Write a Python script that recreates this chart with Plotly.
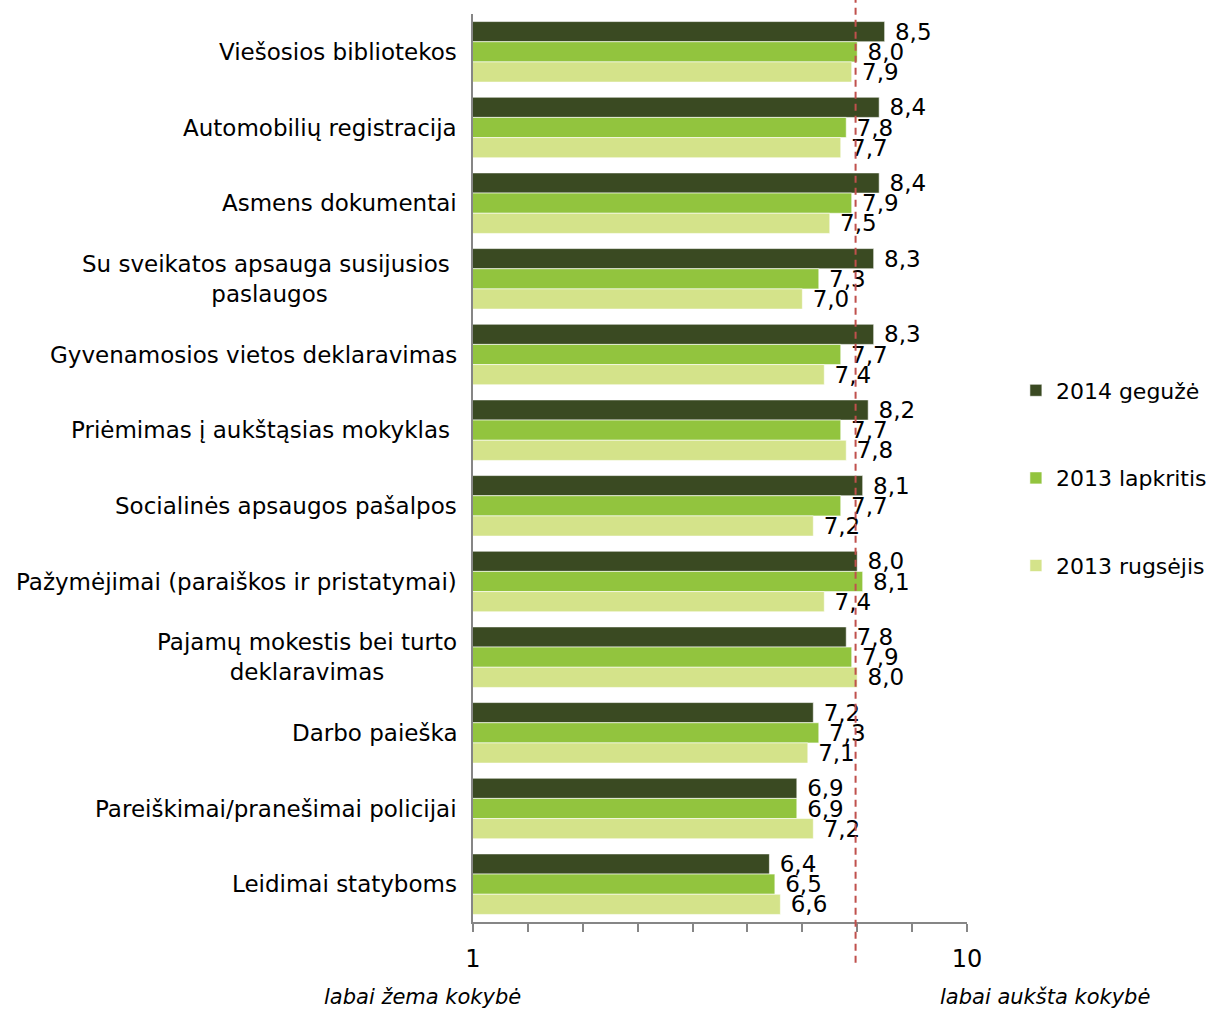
import plotly.graph_objects as go

categories = [
    "Viešosios bibliotekos",
    "Automobilių registracija",
    "Asmens dokumentai",
    "Su sveikatos apsauga susijusios\u00a0<br>paslaugos",
    "Gyvenamosios vietos deklaravimas",
    "Priėmimas į aukštąsias mokyklas\u00a0",
    "Socialinės apsaugos pašalpos",
    "Pažymėjimai (paraiškos ir pristatymai)",
    "Pajamų mokestis bei turto<br>deklaravimas",
    "Darbo paieška",
    "Pareiškimai/pranešimai policijai",
    "Leidimai statyboms",
]
series_names = ["2014 gegužė", "2013 lapkritis", "2013 rugsėjis"]
v_2014_geg = [8.5, 8.4, 8.4, 8.3, 8.3, 8.2, 8.1, 8.0, 7.8, 7.2, 6.9, 6.4]
v_2013_lap = [8.0, 7.8, 7.9, 7.3, 7.7, 7.7, 7.7, 8.1, 7.9, 7.3, 6.9, 6.5]
v_2013_rug = [7.9, 7.7, 7.5, 7.0, 7.4, 7.8, 7.2, 7.4, 8.0, 7.1, 7.2, 6.6]
reference_line = 7.97
x_tick_vals = [1, 2, 3, 4, 5, 6, 7, 8, 9, 10]
x_tick_text = ["1", "", "", "", "", "", "", "", "", "10"]
low_label = "labai žema kokybė"
high_label = "labai aukšta kokybė"

colors = ["#3a4a22", "#92c43e", "#d4e38a"]
FONT = "DejaVu Sans"

fig = go.Figure()
for i, (name, vals) in enumerate(zip(series_names, [v_2014_geg, v_2013_lap, v_2013_rug])):
    fig.add_trace(go.Bar(
        y=categories, x=vals, name=name, orientation="h",
        marker=dict(color=colors[i], line=dict(color="white", width=0.6)),
        texttemplate="\u00a0%{x:.1f}", textposition="outside",
        constraintext="none", cliponaxis=False,
        textfont=dict(family=FONT, size=23, color="black"),
        legendgroup=name, hoverinfo="skip",
    ))

for c in categories:
    fig.add_annotation(
        x=0, xref="paper", y=c, yref="y", text=c, showarrow=False,
        xanchor="right", xshift=-14, align="center",
        font=dict(family=FONT, size=23, color="black"),
    )

fig.add_shape(type="line", xref="x", yref="paper", x0=reference_line, x1=reference_line,
              y0=-0.045, y1=1.016, line=dict(color="#c0504d", width=2, dash="7px,5px"))

fig.add_annotation(x=-0.103, xref="paper", y=-0.083, yref="paper", text=low_label,
                   showarrow=False, xanchor="center", yanchor="middle",
                   font=dict(family=FONT, size=21, color="black", style="italic"))
fig.add_annotation(x=1.158, xref="paper", y=-0.083, yref="paper", text=high_label,
                   showarrow=False, xanchor="center", yanchor="middle",
                   font=dict(family=FONT, size=21, color="black", style="italic"))

fig.update_layout(
    width=1218, height=1010,
    margin=dict(l=473, r=251, t=14, b=88, autoexpand=False),
    barmode="group", bargap=0.2, bargroupgap=0,
    separators=", ",
    plot_bgcolor="white", paper_bgcolor="white",
    font=dict(family=FONT, size=20, color="black"),
    legend=dict(x=1.099, y=0.489, xanchor="left", yanchor="middle",
                font=dict(family=FONT, size=22), tracegroupgap=56,
                itemwidth=30, traceorder="grouped"),
    xaxis=dict(range=[1, 10], tickvals=x_tick_vals, ticktext=x_tick_text,
               ticks="outside", ticklen=8, tickcolor="#868686", tickwidth=2,
               showline=True, linecolor="#868686", linewidth=2,
               showgrid=False, zeroline=False,
               tickfont=dict(family=FONT, size=24), ticklabelstandoff=6),
    yaxis=dict(autorange="reversed", showticklabels=False, showline=True,
               linecolor="#868686", linewidth=2, ticks="", showgrid=False),
)

fig.write_html("out.html")
